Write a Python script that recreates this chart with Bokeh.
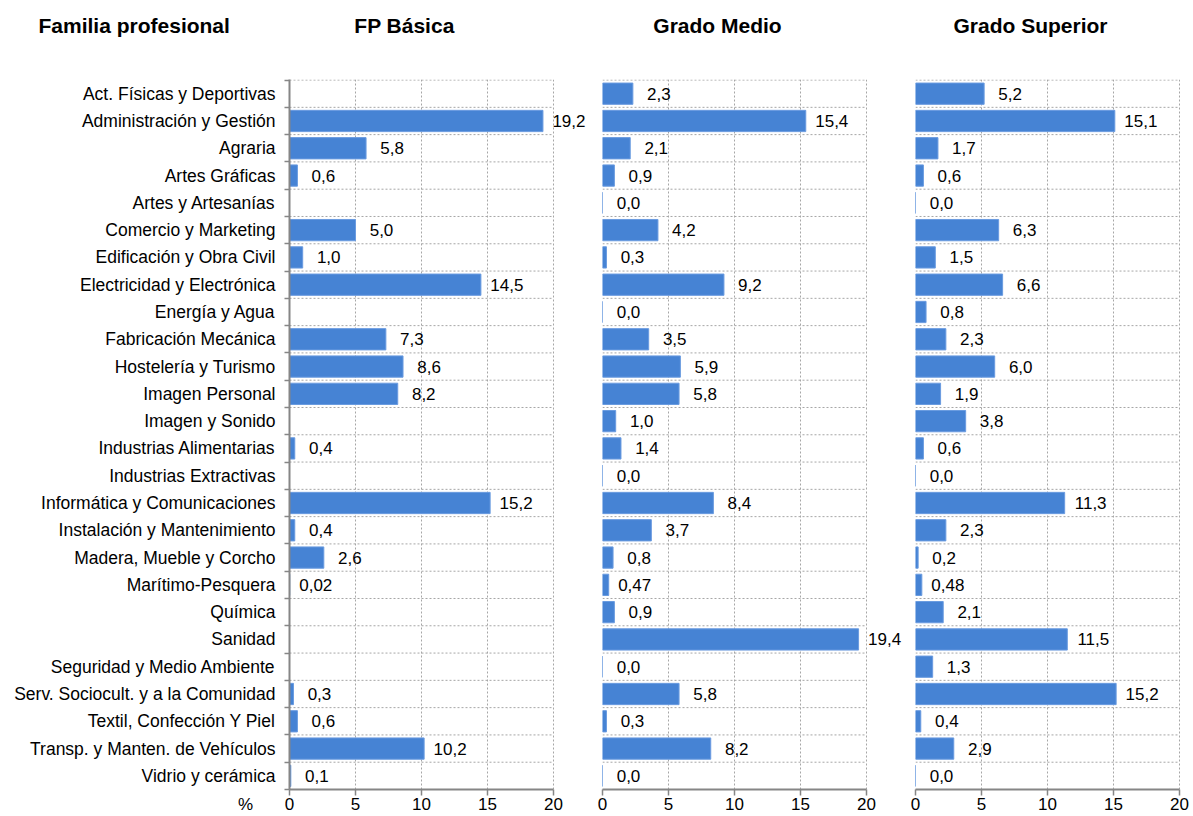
from bokeh.plotting import figure
from bokeh.layouts import row, column
from bokeh.models import Range1d, FixedTicker, ColumnDataSource
from bokeh.core.properties import value
from bokeh.embed import file_html
from bokeh.resources import INLINE

familias = [
    "Act. Físicas y Deportivas", "Administración y Gestión", "Agraria", "Artes Gráficas",
    "Artes y Artesanías", "Comercio y Marketing", "Edificación y Obra Civil",
    "Electricidad y Electrónica", "Energía y Agua", "Fabricación Mecánica",
    "Hostelería y Turismo", "Imagen Personal", "Imagen y Sonido", "Industrias Alimentarias",
    "Industrias Extractivas", "Informática y Comunicaciones", "Instalación y Mantenimiento",
    "Madera, Mueble y Corcho", "Marítimo-Pesquera", "Química", "Sanidad",
    "Seguridad y Medio Ambiente", "Serv. Sociocult. y a la Comunidad",
    "Textil, Confección Y Piel", "Transp. y Manten. de Vehículos", "Vidrio y cerámica",
]
fp_basica = [None, 19.2, 5.8, 0.6, None, 5.0, 1.0, 14.5, None, 7.3, 8.6, 8.2, None, 0.4,
             None, 15.2, 0.4, 2.6, 0.02, None, None, None, 0.3, 0.6, 10.2, 0.1]
grado_medio = [2.3, 15.4, 2.1, 0.9, 0.0, 4.2, 0.3, 9.2, 0.0, 3.5, 5.9, 5.8, 1.0, 1.4,
               0.0, 8.4, 3.7, 0.8, 0.47, 0.9, 19.4, 0.0, 5.8, 0.3, 8.2, 0.0]
grado_superior = [5.2, 15.1, 1.7, 0.6, 0.0, 6.3, 1.5, 6.6, 0.8, 2.3, 6.0, 1.9, 3.8, 0.6,
                  0.0, 11.3, 2.3, 0.2, 0.48, 2.1, 11.5, 1.3, 15.2, 0.4, 2.9, 0.0]
header_title = "Familia profesional"
panel_titles = ["FP Básica", "Grado Medio", "Grado Superior"]
unit_label = "%"
x_ticks = [0, 5, 10, 15, 20]
X_MAX = 20

FONT = "Liberation Sans"
BAR = "#4683d4"
GRID = "#a6a6a6"
AXIS = "#868686"
N = len(familias)

TOTAL_W = 1191
HEADER_H = 60
PANEL_H = 754
FRAME_W = 264          # pixels for 0..20
B_TOP = 19
B_BOT = 25
LABEL_W = 279          # width of the category-label column
# (left border, extra frame px beyond 20, right border)
PANELS = [(10, 40, 0), (9, 40, 0), (9, 12, 0)]

Y_TOP = -0.52
Y_BOT = N - 0.5
FRAME_H = PANEL_H - B_TOP - B_BOT
PX_PER_ROW = FRAME_H / (Y_BOT - Y_TOP)


def fmt(v):
    s = f"{v:.1f}" if round(v, 1) == v else f"{v:.2f}"
    return s.replace(".", ",")


def make_panel(vals, first, left_border, ext, right_border):
    idx = [i for i, v in enumerate(vals) if v is not None]
    src = ColumnDataSource(dict(
        y=idx,
        v=[vals[i] for i in idx],
        lab=[fmt(vals[i]) for i in idx],
    ))
    boundaries = [i - 0.5 for i in range(N + 1)]
    x_end = X_MAX * (FRAME_W + ext) / FRAME_W
    p = figure(width=left_border + FRAME_W + ext + right_border, height=PANEL_H,
               output_backend="svg", toolbar_location=None,
               x_range=Range1d(0, x_end), y_range=Range1d(Y_BOT, Y_TOP),
               min_border_left=left_border, min_border_right=right_border,
               min_border_top=B_TOP, min_border_bottom=B_BOT,
               outline_line_color=None, background_fill_color="white",
               border_fill_color="white")
    # horizontal dotted grid lines between categories, limited to the 0..20 scale
    p.segment(x0=[0] * len(boundaries), x1=[X_MAX] * len(boundaries),
              y0=boundaries, y1=boundaries, line_color=GRID, line_dash="2 2",
              line_width=1)
    p.hbar(y="y", right="v", left=0, height=0.78, source=src,
           fill_color=BAR, line_color="#6a9be0", line_width=1)
    p.text(x="v", y="y", text="lab", source=src, x_offset=26,
           text_align="center", text_baseline="middle",
           text_font=value(FONT), text_font_size="17px", text_color="black")

    xa = p.xaxis[0]
    xa.ticker = FixedTicker(ticks=x_ticks)
    xa.bounds = (0, X_MAX)
    xa.minor_tick_line_color = None
    xa.major_tick_out = 6
    xa.major_tick_in = 0
    xa.axis_line_color = AXIS
    xa.axis_line_width = 2
    xa.major_tick_line_color = AXIS
    xa.major_tick_line_width = 1.5
    xa.major_label_text_font = FONT
    xa.major_label_text_font_size = "17px"
    xa.major_label_text_color = "black"
    xa.major_label_standoff = 2

    ya = p.yaxis[0]
    if first:
        ya.ticker = FixedTicker(ticks=[], minor_ticks=boundaries)
        ya.major_tick_out = 0
        ya.major_tick_in = 0
        ya.minor_tick_out = 5
        ya.minor_tick_in = 0
        ya.minor_tick_line_color = AXIS
        ya.minor_tick_line_width = 1.5
        ya.axis_line_color = AXIS
        ya.axis_line_width = 2
        ya.major_label_standoff = 0
    else:
        ya.visible = False

    p.xgrid.ticker = FixedTicker(ticks=x_ticks)
    p.xgrid.grid_line_color = GRID
    p.xgrid.grid_line_dash = "2 2"
    p.xgrid.grid_line_width = 1
    p.ygrid.grid_line_color = None
    return p


# category label column (same vertical scale as the panels)
lab_span = (PANEL_H - B_TOP) / PX_PER_ROW
lab = figure(width=LABEL_W, height=PANEL_H, output_backend="svg", toolbar_location=None,
             x_range=Range1d(0, LABEL_W), y_range=Range1d(Y_TOP + lab_span, Y_TOP),
             min_border_left=0, min_border_right=0, min_border_top=B_TOP,
             min_border_bottom=0, outline_line_color=None, x_axis_location=None,
             y_axis_location=None, background_fill_color="white",
             border_fill_color="white")
if "frame_align" in lab.properties():
    lab.frame_align = False
lab.grid.visible = False
lab.text(x=[LABEL_W - 4] * N, y=list(range(N)), text=familias, text_align="right",
         text_baseline="middle", text_font=value(FONT), text_font_size="17.5px",
         text_color="black")
lab.text(x=[LABEL_W - 34], y=[Y_BOT], y_offset=15, text=[unit_label],
         text_align="center", text_baseline="middle", text_font=value(FONT),
         text_font_size="17px", text_color="black")

panels = []
frame_lefts = []
xpos = LABEL_W
for k, vals in enumerate([fp_basica, grado_medio, grado_superior]):
    lb, ext, rb = PANELS[k]
    panels.append(make_panel(vals, k == 0, lb, ext, rb))
    frame_lefts.append(xpos + lb)
    xpos += lb + FRAME_W + ext + rb

# header with the column titles
hdr = figure(width=TOTAL_W, height=HEADER_H, output_backend="svg", toolbar_location=None,
             x_range=Range1d(0, TOTAL_W), y_range=Range1d(HEADER_H, 0),
             min_border=0, outline_line_color=None, x_axis_location=None,
             y_axis_location=None, background_fill_color="white",
             border_fill_color="white")
hdr.grid.visible = False
hdr.text(x=[38], y=[25], text=[header_title], text_align="left",
         text_baseline="middle", text_font=value(FONT), text_font_size="21px",
         text_font_style="bold", text_color="black")
hdr.text(x=[fl + FRAME_W / 2 - 17 for fl in frame_lefts], y=[25] * 3, text=panel_titles,
         text_align="center", text_baseline="middle", text_font=value(FONT),
         text_font_size="21px", text_font_style="bold", text_color="black")

layout = column(hdr, row(lab, *panels, spacing=0), spacing=0)
open("out.html", "w").write(file_html(layout, INLINE))
